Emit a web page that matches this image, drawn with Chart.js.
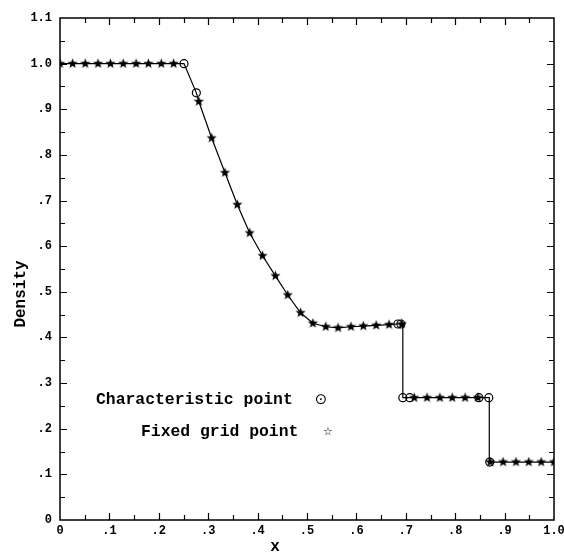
<!DOCTYPE html>
<html><head><meta charset="utf-8">
<script src="https://cdn.jsdelivr.net/npm/chart.js@4.4.0/dist/chart.umd.min.js"></script>
<style>html,body{margin:0;padding:0;background:#fff;}#wrap{width:564px;height:556px;position:relative;}</style>
</head><body><div id="wrap"><canvas id="c" width="564" height="556"></canvas></div>
<script>
// Exact solution curve
const solutionX = [0, 0.251, 0.276, 0.281, 0.307, 0.334, 0.359, 0.384, 0.410, 0.436, 0.461, 0.487, 0.512, 0.538, 0.563, 0.589, 0.614, 0.640, 0.666, 0.684, 0.694, 0.694, 0.708, 0.848, 0.869, 0.869, 1.0];
const solutionY = [1.0, 1.0, 0.936, 0.917, 0.837, 0.761, 0.691, 0.629, 0.579, 0.535, 0.493, 0.454, 0.431, 0.4235, 0.421, 0.4235, 0.425, 0.4265, 0.428, 0.4295, 0.4295, 0.268, 0.268, 0.268, 0.268, 0.127, 0.127];
// Fixed grid points (stars)
const gridX = [0, 0.0255, 0.051, 0.077, 0.102, 0.128, 0.154, 0.179, 0.205, 0.230, 0.281, 0.307, 0.334, 0.359, 0.384, 0.410, 0.436, 0.461, 0.487, 0.512, 0.538, 0.563, 0.589, 0.614, 0.640, 0.666, 0.692, 0.717, 0.743, 0.769, 0.794, 0.820, 0.846, 0.871, 0.897, 0.923, 0.949, 0.974, 1.0];
const gridY = [1, 1, 1, 1, 1, 1, 1, 1, 1, 1, 0.917, 0.837, 0.761, 0.691, 0.629, 0.579, 0.535, 0.493, 0.454, 0.431, 0.4235, 0.421, 0.4235, 0.425, 0.4265, 0.428, 0.4295, 0.268, 0.268, 0.268, 0.268, 0.268, 0.268, 0.127, 0.127, 0.127, 0.127, 0.127, 0.127];
// Characteristic points (circles)
const charX = [0.251, 0.276, 0.684, 0.690, 0.694, 0.708, 0.848, 0.868, 0.870];
const charY = [1.0, 0.936, 0.4295, 0.4295, 0.268, 0.268, 0.268, 0.268, 0.127];
// Tick labels
const xTickLabels = ['0', '.1', '.2', '.3', '.4', '.5', '.6', '.7', '.8', '.9', '1.0'];
const yTickLabels = ['0', '.1', '.2', '.3', '.4', '.5', '.6', '.7', '.8', '.9', '1.0', '1.1'];
const xAxisTitle = 'x';
const yAxisTitle = 'Density';
const legendLabels = ['Characteristic point', 'Fixed grid point'];
const legendSymbols = ['\u2299', '\u2606'];

const FONT = '"Liberation Mono", "DejaVu Sans Mono", monospace';

function pts(xs, ys) { return xs.map((x, i) => ({ x: x, y: ys[i] })); }

function starImage(size, outer, inner) {
  const c = document.createElement('canvas');
  c.width = size; c.height = size;
  const g = c.getContext('2d');
  g.fillStyle = '#000';
  g.beginPath();
  for (let k = 0; k < 10; k++) {
    const r = k % 2 === 0 ? outer : inner;
    const a = -Math.PI / 2 + k * Math.PI / 5;
    const px = size / 2 + r * Math.cos(a), py = size / 2 + r * Math.sin(a);
    if (k === 0) g.moveTo(px, py); else g.lineTo(px, py);
  }
  g.closePath();
  g.fill();
  return c;
}
const starImg = starImage(11, 5.3, 2.3);

const framePlugin = {
  id: 'frame',
  afterDraw(chart) {
    const ctx = chart.ctx, a = chart.chartArea;
    const xs = chart.scales.x, ys = chart.scales.y;
    ctx.save();
    ctx.strokeStyle = '#000';
    ctx.lineWidth = 1.5;
    ctx.strokeRect(a.left, a.top, a.right - a.left, a.bottom - a.top);
    ctx.lineWidth = 1.2;
    ctx.beginPath();
    for (let i = 1; i < 20; i++) {
      const px = Math.round(xs.getPixelForValue(i * 0.05)) + 0.5;
      const len = i % 2 === 0 ? 7 : 5;
      ctx.moveTo(px, a.bottom); ctx.lineTo(px, a.bottom - len);
      ctx.moveTo(px, a.top); ctx.lineTo(px, a.top + len);
    }
    for (let i = 1; i < 22; i++) {
      const py = Math.round(ys.getPixelForValue(i * 0.05)) + 0.5;
      const len = i % 2 === 0 ? 7 : 5;
      ctx.moveTo(a.left, py); ctx.lineTo(a.left + len, py);
      ctx.moveTo(a.right, py); ctx.lineTo(a.right - len, py);
    }
    ctx.stroke();

    ctx.fillStyle = '#000';
    // axis titles
    ctx.font = 'bold 16px ' + FONT;
    ctx.textAlign = 'center'; ctx.textBaseline = 'middle';
    ctx.fillText(xAxisTitle, 275, 547);
    ctx.save();
    ctx.translate(21, 294);
    ctx.rotate(-Math.PI / 2);
    ctx.fillText(yAxisTitle, 0, 0);
    ctx.restore();

    // legend
    ctx.textAlign = 'left';
    ctx.font = 'bold 16.4px ' + FONT;
    ctx.fillText(legendLabels[0], 96, 400);
    ctx.fillText(legendLabels[1], 141, 432);
    ctx.textAlign = 'center';
    ctx.font = '15px "DejaVu Sans"';
    ctx.fillText(legendSymbols[0], 321, 400);
    ctx.font = '11px "DejaVu Sans"';
    ctx.fillText(legendSymbols[1], 328, 432);
    ctx.restore();
  }
};

new Chart(document.getElementById('c'), {
  type: 'line',
  data: {
    datasets: [
      { label: 'Characteristic point', data: pts(charX, charY), showLine: false, pointStyle: 'circle', pointRadius: 4, pointBackgroundColor: 'rgba(0,0,0,0)', pointBorderColor: '#000', pointBorderWidth: 1.2, order: 1 },
      { label: 'Fixed grid point', data: pts(gridX, gridY), showLine: false, pointStyle: starImg, pointRadius: 5, order: 2 },
      { label: 'Solution', data: pts(solutionX, solutionY), borderColor: '#000', borderWidth: 1.2, pointRadius: 0, tension: 0, fill: false, order: 3 }
    ]
  },
  plugins: [framePlugin],
  options: {
    responsive: false,
    animation: false,
    devicePixelRatio: 1,
    layout: { padding: { top: 18, right: 0, left: 0, bottom: 0 } },
    plugins: { legend: { display: false }, tooltip: { enabled: false } },
    scales: {
      x: {
        type: 'linear', min: 0, max: 1,
        grid: { display: false, tickLength: 0, drawTicks: false }, border: { display: false },
        ticks: { stepSize: 0.1, autoSkip: false, maxRotation: 0, color: '#000', padding: 4,
          font: { family: FONT, size: 12, weight: 'bold' },
          callback: (v) => xTickLabels[Math.round(v * 10)] },
        afterFit: (s) => { s.height = 36; s.paddingRight = 10; s.paddingLeft = 0; }
      },
      y: {
        type: 'linear', min: 0, max: 1.1,
        grid: { display: false, tickLength: 0, drawTicks: false }, border: { display: false },
        ticks: { stepSize: 0.1, autoSkip: false, color: '#000', padding: 8,
          font: { family: FONT, size: 12, weight: 'bold' },
          callback: (v) => yTickLabels[Math.round(v * 10)] },
        afterFit: (s) => { s.width = 60; }
      }
    }
  }
});
</script></body></html>
